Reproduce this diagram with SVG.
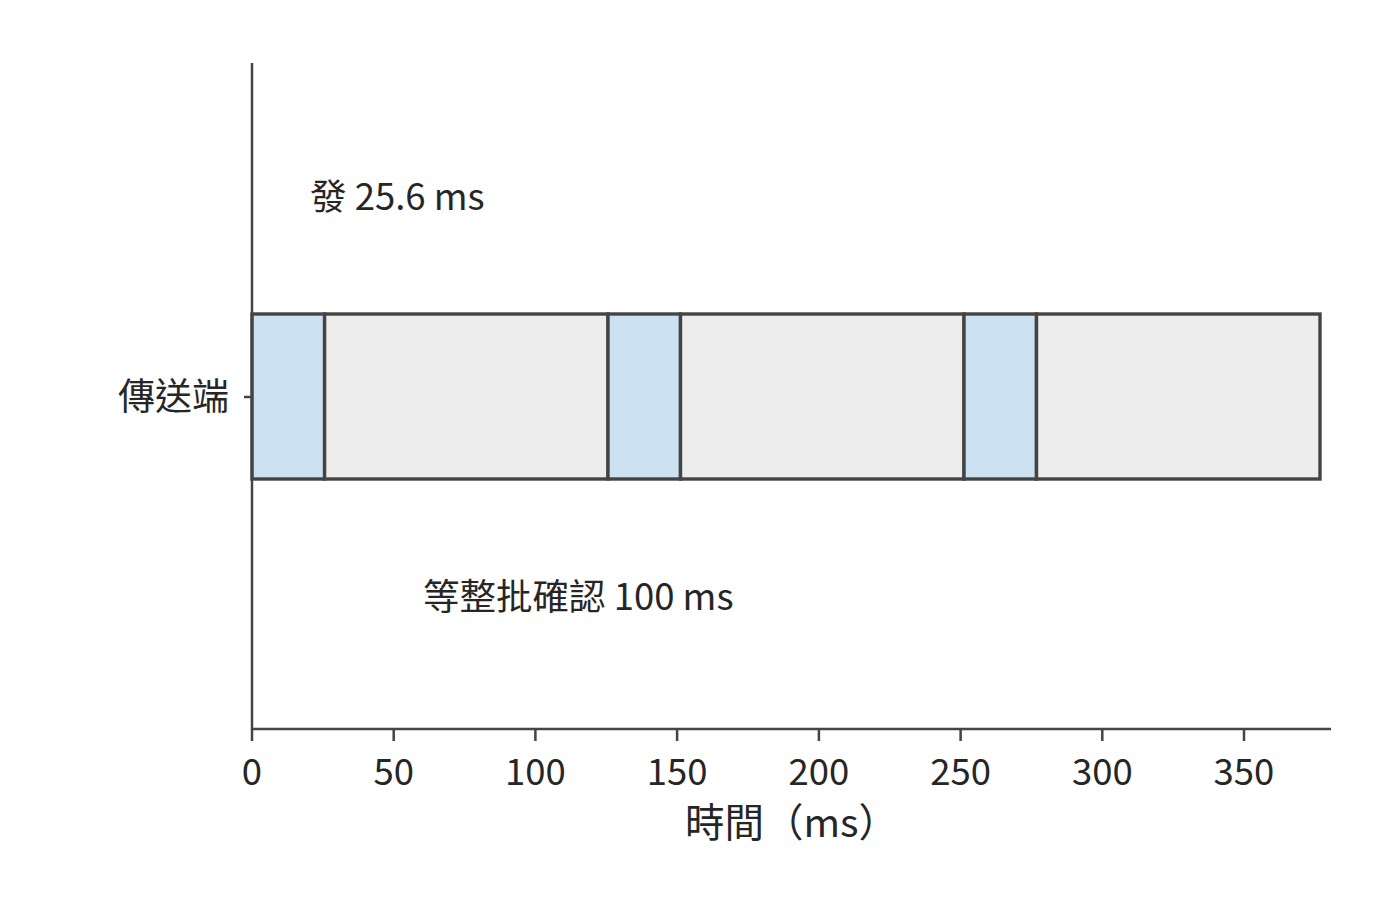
<svg xmlns="http://www.w3.org/2000/svg" width="1400" height="912" viewBox="0 0 1400 912">
<style>
text{font-family:"Noto Sans CJK TC","Noto Sans CJK SC",sans-serif;fill:#262626;font-size:36.5px}
.ax{stroke:#444;stroke-width:2.5;fill:none}
.send{fill:#cce2f2;stroke:#444;stroke-width:3.4}
.wait{fill:#ededed;stroke:#444;stroke-width:3.4}
.tk{text-anchor:middle}
</style>
<rect width="1400" height="912" fill="#fff"/>
<g id="bars">
<rect class="send" x="252" y="314" width="72.6" height="165"/>
<rect class="wait" x="324.6" y="314" width="283.4" height="165"/>
<rect class="send" x="608" y="314" width="72.5" height="165"/>
<rect class="wait" x="680.5" y="314" width="283.5" height="165"/>
<rect class="send" x="964" y="314" width="72.5" height="165"/>
<rect class="wait" x="1036.5" y="314" width="283.5" height="165"/>
</g>
<g id="axes">
<line class="ax" x1="252" y1="63" x2="252" y2="729"/>
<line class="ax" x1="251" y1="729" x2="1331" y2="729"/>
<line class="ax" x1="244" y1="397" x2="252" y2="397"/>
<path class="ax" d="M252 729v12M393.7 729v12M535.4 729v12M677.1 729v12M818.9 729v12M960.6 729v12M1102.3 729v12M1244 729v12"/>
</g>
<g id="labels">
<text x="229" y="410" text-anchor="end" style="font-size:37px">傳送端</text>
<text class="tk" x="252" y="785">0</text>
<text class="tk" x="393.7" y="785">50</text>
<text class="tk" x="535.4" y="785">100</text>
<text class="tk" x="677.1" y="785">150</text>
<text class="tk" x="818.9" y="785">200</text>
<text class="tk" x="960.6" y="785">250</text>
<text class="tk" x="1102.3" y="785">300</text>
<text class="tk" x="1244" y="785">350</text>
<text x="685" y="837" style="font-size:39.5px">時間（ms）</text>
<text x="310" y="210">發 25.6 ms</text>
<text x="423" y="610">等整批確認 100 ms</text>
</g>
</svg>
